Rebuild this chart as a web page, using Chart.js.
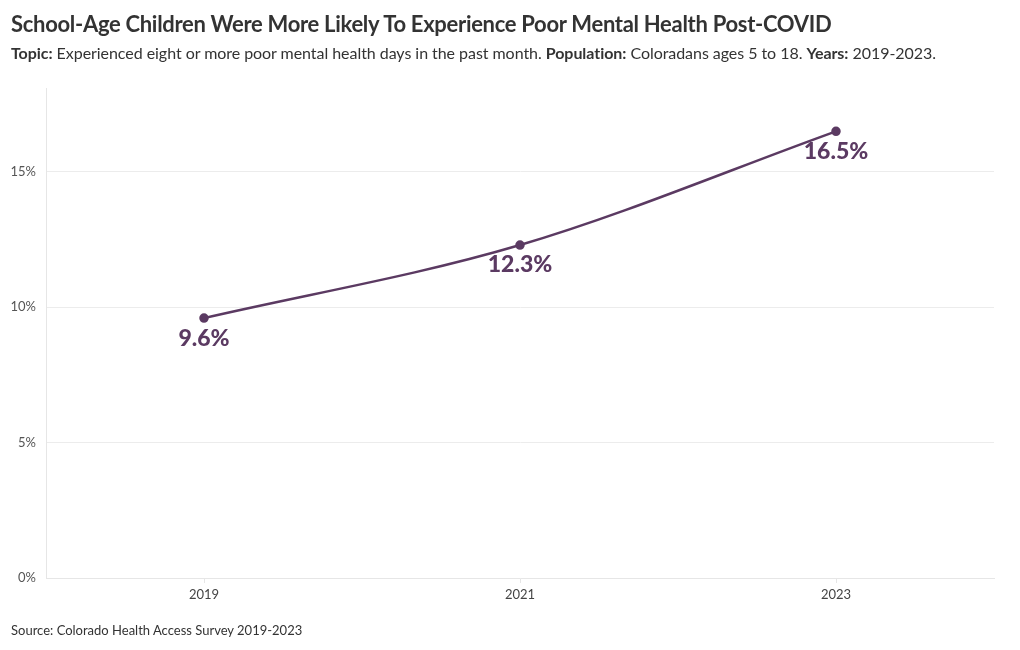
<!DOCTYPE html>
<html>
<head>
<meta charset="utf-8">
<script src="https://cdn.jsdelivr.net/npm/chart.js@4"></script>
<style>
  html, body { margin: 0; padding: 0; background: #fff; }
  body { width: 1020px; height: 650px; position: relative; overflow: hidden; font-family: "Source Sans Pro", Lato, "Noto Sans", sans-serif; color: #333; }
  #title { position: absolute; left: 11px; top: 10px; font-size: 22px; font-weight: 700; color: #333; white-space: nowrap; letter-spacing: -0.3px; }
  #subtitle { position: absolute; left: 11px; top: 43px; font-size: 16px; color: #333; white-space: nowrap; letter-spacing: -0.05px; }
  #subtitle b { font-weight: 700; }
  #source { position: absolute; left: 11px; top: 622px; font-size: 13px; color: #333; white-space: nowrap; }
  #wrap { position: absolute; left: 0; top: 0; width: 1020px; height: 650px; }
</style>
</head>
<body>
<div id="wrap"><canvas id="c"></canvas></div>
<div id="title">School-Age Children Were More Likely To Experience Poor Mental Health Post-COVID</div>
<div id="subtitle"><b>Topic:</b> Experienced eight or more poor mental health days in the past month. <b>Population:</b> Coloradans ages 5 to 18. <b>Years:</b> 2019-2023.</div>
<div id="source">Source: Colorado Health Access Survey 2019-2023</div>
<script>
const years = ["2019", "2021", "2023"];
const values = [9.6, 12.3, 16.5];
const yTickValues = [0, 5, 10, 15];

const FONT = 'Lato, "Noto Sans", sans-serif';
const PURPLE = '#5b3a62';

const labelPlugin = {
  id: 'pointLabels',
  afterDatasetsDraw(chart) {
    const ctx = chart.ctx;
    const meta = chart.getDatasetMeta(0);
    ctx.save();
    ctx.font = '900 23px ' + FONT;
    ctx.fillStyle = PURPLE;
    ctx.textAlign = 'center';
    ctx.textBaseline = 'middle';
    meta.data.forEach((pt, i) => {
      ctx.fillText(values[i].toFixed(1) + '%', pt.x, pt.y + 20);
    });
    ctx.restore();
  }
};

new Chart(document.getElementById('c'), {
  type: 'line',
  data: {
    labels: years,
    datasets: [{
      data: values,
      borderColor: PURPLE,
      backgroundColor: PURPLE,
      borderWidth: 2.5,
      pointRadius: 3.5,
      pointHoverRadius: 3.5,
      cubicInterpolationMode: 'monotone',
      fill: false
    }]
  },
  options: {
    responsive: true,
    maintainAspectRatio: false,
    animation: false,
    events: [],
    layout: { padding: { left: 0, right: 26, top: 88, bottom: 42 } },
    plugins: { legend: { display: false }, tooltip: { enabled: false } },
    scales: {
      x: {
        type: 'category',
        offset: true,
        grid: { display: true, drawOnChartArea: false, drawTicks: true, tickLength: 5, color: '#e6e6e6' },
        border: { display: true, color: '#e6e6e6', width: 1 },
        ticks: { color: '#444', font: { family: FONT, size: 13 }, padding: 4 },
        afterFit(s) { s.height = 30; }
      },
      y: {
        min: 0,
        max: 18.1,
        grid: { color: '#ececec', drawTicks: false },
        border: { display: true, color: '#e6e6e6', width: 1 },
        ticks: {
          stepSize: 5,
          color: '#555',
          padding: 10,
          font: { family: FONT, size: 13 },
          callback: v => v + '%'
        },
        afterBuildTicks(s) { s.ticks = yTickValues.map(v => ({ value: v })); },
        afterFit(s) { s.width = 46; }
      }
    }
  },
  plugins: [labelPlugin]
});
</script>
</body>
</html>
